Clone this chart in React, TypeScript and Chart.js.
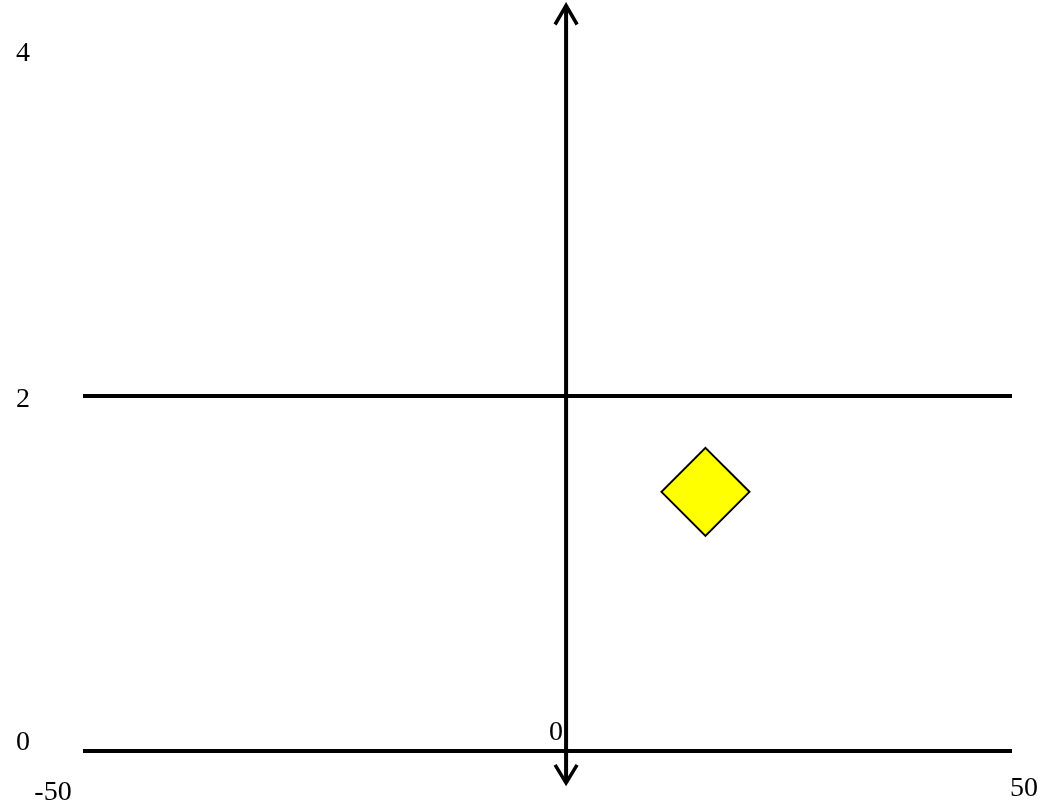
import React, { useEffect, useRef } from "react";
import { Chart, registerables } from "chart.js";

Chart.register(...registerables);

// Data
const xLimits = [-50, 50];
const yLimits = [0, 4];
const horizontalLineYs = [0, 2];
const verticalLineX = 2;
const verticalLineYs = [-0.18, 4.2];
const markerX = [17];
const markerY = [1.46];
const yTickValues = [4, 2, 0];
const yTickLabels = ["4", "2", "0"];
const xTickValues = [-50, 50];
const xTickLabels = ["-50", "50"];
const originLabel = "0";

const FONT = '28px "Liberation Serif", "Times New Roman", serif';

const labelsPlugin = {
  id: "customLabels",
  afterDraw(chart: any) {
    const { ctx, chartArea, scales } = chart;
    const xs = scales.x;
    const ys = scales.y;
    ctx.save();
    ctx.fillStyle = "#000";
    ctx.font = FONT;
    ctx.textAlign = "center";
    ctx.textBaseline = "alphabetic";
    yTickValues.forEach((v, i) => {
      let py = ys.getPixelForValue(v) + 11;
      py = Math.min(Math.max(py, chartArea.top + 20), chartArea.bottom - 1);
      ctx.fillText(yTickLabels[i], chartArea.left - 60, py);
    });
    xTickValues.forEach((v, i) => {
      const px = xs.getPixelForValue(v);
      const off = i === 0 ? -30 : 12;
      const dy = i === 0 ? 49 : 45;
      ctx.fillText(xTickLabels[i], px + off, chartArea.bottom + dy);
    });
    ctx.fillText(originLabel, xs.getPixelForValue(verticalLineX) - 10, ys.getPixelForValue(0) - 11);

    // arrowheads on the vertical line
    const vx = xs.getPixelForValue(verticalLineX);
    const topY = ys.getPixelForValue(verticalLineYs[1]);
    const botY = ys.getPixelForValue(verticalLineYs[0]);
    ctx.strokeStyle = "#000";
    ctx.lineWidth = 3.5;
    ctx.lineCap = "butt";
    ctx.lineJoin = "miter";
    ctx.beginPath();
    ctx.moveTo(vx - 11, topY + 19);
    ctx.lineTo(vx, topY);
    ctx.lineTo(vx + 11, topY + 19);
    ctx.stroke();
    ctx.beginPath();
    ctx.moveTo(vx - 11, botY - 18);
    ctx.lineTo(vx, botY);
    ctx.lineTo(vx + 11, botY - 18);
    ctx.stroke();
    ctx.restore();
  },
};

export default function App() {
  const ref = useRef<HTMLCanvasElement | null>(null);
  useEffect(() => {
    document.body.style.margin = "0";
    document.body.style.overflow = "hidden";
    const canvas = ref.current;
    if (!canvas) return;
    const lineDatasets = horizontalLineYs.map((y) => ({
      type: "line" as const,
      data: [
        { x: xLimits[0], y },
        { x: xLimits[1], y },
      ],
      borderColor: "#000",
      borderWidth: 4,
      pointRadius: 0,
      showLine: true,
      clip: false as any,
    }));
    const chart = new Chart(canvas, {
      type: "scatter",
      data: {
        datasets: [
          ...lineDatasets,
          {
            type: "line" as const,
            data: [
              { x: verticalLineX, y: verticalLineYs[0] },
              { x: verticalLineX, y: verticalLineYs[1] },
            ],
            borderColor: "#000",
            borderWidth: 4,
            pointRadius: 0,
            showLine: true,
            clip: false as any,
          },
          {
            type: "scatter" as const,
            data: markerX.map((x, i) => ({ x, y: markerY[i] })),
            pointStyle: "rectRot",
            pointRadius: 44,
            pointHoverRadius: 44,
            backgroundColor: "#ffff00",
            borderColor: "#000",
            borderWidth: 2,
            clip: false as any,
          },
        ] as any,
      },
      options: {
        animation: false,
        responsive: false,
        events: [],
        layout: { autoPadding: false, padding: { left: 83, right: 32, top: 41, bottom: 52 } },
        plugins: { legend: { display: false }, tooltip: { enabled: false } },
        scales: {
          x: { type: "linear", min: xLimits[0], max: xLimits[1], display: false },
          y: { type: "linear", min: yLimits[0], max: yLimits[1], display: false },
        },
      },
      plugins: [labelsPlugin],
    });
    return () => chart.destroy();
  }, []);
  return (
    <div style={{ width: 1044, height: 803, background: "#fff" }}>
      <canvas ref={ref} width={1044} height={803} style={{ display: "block", width: 1044, height: 803 }} />
    </div>
  );
}
